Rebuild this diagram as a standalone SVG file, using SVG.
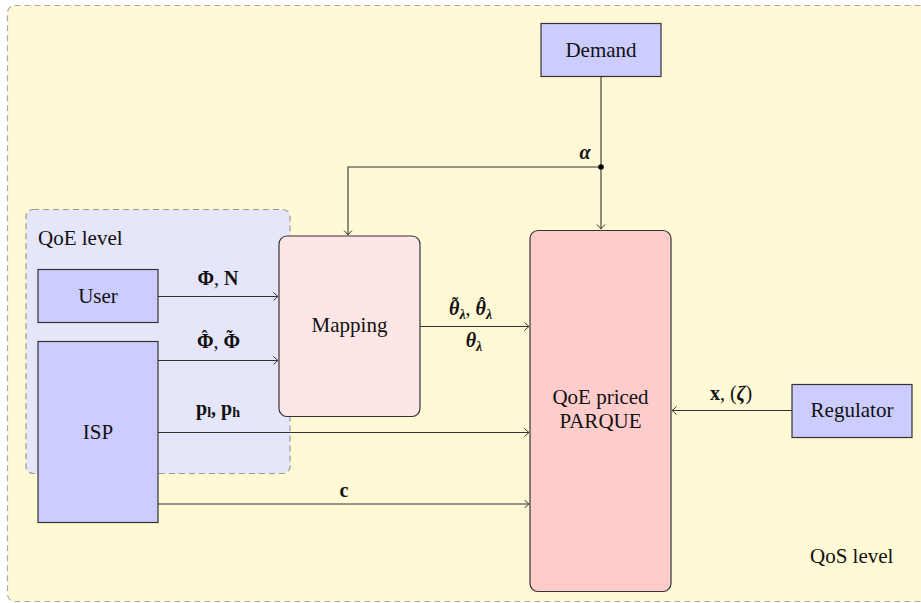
<svg xmlns="http://www.w3.org/2000/svg" width="921" height="603" viewBox="0 0 921 603">
<defs>
<marker id="arr" markerUnits="userSpaceOnUse" markerWidth="12" markerHeight="12" viewBox="-6 -6 12 12" refX="0" refY="0" orient="auto">
<path d="M-4.5,-4 Q-1.5,-1 0,0 Q-1.5,1 -4.5,4" fill="none" stroke="#333" stroke-width="1"/>
</marker>
</defs>
<style>
.node{stroke:#333;stroke-width:1.2}
.blue{fill:#ccccff}
.conn{fill:none;stroke:#333;stroke-width:1.1}
</style>
<rect x="7.5" y="5.5" width="940" height="596" rx="7" fill="#fff9d6" stroke="#aaa" stroke-width="1.2" stroke-dasharray="6,4"/>
<g id="qoe-level">
<rect x="26" y="209.5" width="264" height="264" rx="7" fill="#e6e6fb" stroke="#999" stroke-width="1.2" stroke-dasharray="6,4"/>
<text x="38" y="245" font-family="Liberation Serif" font-size="21" fill="#111">QoE level</text>
</g>
<g id="qos-level">
<text x="810" y="563" font-family="Liberation Serif" font-size="21" fill="#111">QoS level</text>
</g>
<g id="connectors">
<path class="conn" d="M601,76 V229" marker-end="url(#arr)"/>
<path class="conn" d="M601,167 H348 V235" marker-end="url(#arr)"/>
<circle cx="601" cy="167" r="2.8" fill="#000"/>
<path class="conn" d="M158,296.5 H278" marker-end="url(#arr)"/>
<path class="conn" d="M158,360.5 H278" marker-end="url(#arr)"/>
<path class="conn" d="M158,432.5 H529" marker-end="url(#arr)"/>
<path class="conn" d="M158,504 H529" marker-end="url(#arr)"/>
<path class="conn" d="M420,326.5 H529" marker-end="url(#arr)"/>
<path class="conn" d="M792,410.5 H672" marker-end="url(#arr)"/>
<g font-family="Liberation Serif" font-size="20" fill="#111">
<text x="585" y="159" text-anchor="middle" font-weight="bold" font-style="italic">α</text>
<text x="218" y="285" text-anchor="middle"><tspan font-weight="bold">Φ</tspan>, <tspan font-weight="bold">N</tspan></text>
<text><tspan x="197" y="348" font-weight="bold">Φ</tspan>, <tspan font-weight="bold">Φ</tspan><tspan font-size="18" font-weight="bold" x="204.5" y="343" text-anchor="middle">ˆ</tspan><tspan font-size="18" font-weight="bold" x="229.5" y="343" text-anchor="middle">˜</tspan></text>
<text x="218" y="415" text-anchor="middle" font-weight="bold">p<tspan font-size="14" dy="2">l</tspan><tspan dy="-2">, p</tspan><tspan font-size="14" dy="2">h</tspan></text>
<text x="344" y="497" text-anchor="middle" font-weight="bold">c</text>
<text><tspan font-weight="bold" font-style="italic" x="449" y="315">θ</tspan><tspan font-weight="bold" font-style="italic" font-size="14" dy="4">λ</tspan><tspan dy="-4">, </tspan><tspan font-weight="bold" font-style="italic">θ</tspan><tspan font-weight="bold" font-style="italic" font-size="14" dy="4">λ</tspan><tspan font-size="18" font-weight="bold" x="455" y="310" text-anchor="middle">˜</tspan><tspan font-size="18" font-weight="bold" x="482" y="310" text-anchor="middle">ˆ</tspan></text>
<text x="474" y="347" text-anchor="middle"><tspan font-weight="bold" font-style="italic">θ</tspan><tspan font-weight="bold" font-style="italic" font-size="14" dy="4">λ</tspan></text>
<text x="731" y="400" text-anchor="middle"><tspan font-weight="bold">x</tspan>, (<tspan font-weight="bold" font-style="italic">ζ</tspan>)</text>
</g>
</g>
<g id="demand">
<rect class="node blue" x="541" y="23.5" width="120" height="53"/>
<text x="601" y="57" text-anchor="middle" font-family="Liberation Serif" font-size="21" fill="#111">Demand</text>
</g>
<g id="user">
<rect class="node blue" x="38" y="269.5" width="120" height="53"/>
<text x="98" y="303" text-anchor="middle" font-family="Liberation Serif" font-size="21" fill="#111">User</text>
</g>
<g id="isp">
<rect class="node blue" x="38" y="341.5" width="120" height="181"/>
<text x="98" y="439" text-anchor="middle" font-family="Liberation Serif" font-size="21" fill="#111">ISP</text>
</g>
<g id="mapping">
<rect class="node" x="279" y="236" width="141" height="180.5" rx="8" fill="#fee6e6"/>
<text x="349.5" y="332" text-anchor="middle" font-family="Liberation Serif" font-size="21" fill="#111">Mapping</text>
</g>
<g id="parque">
<rect class="node" x="530" y="230.5" width="141" height="361" rx="8" fill="#ffcccc"/>
<text x="600.5" y="404" text-anchor="middle" font-family="Liberation Serif" font-size="21" fill="#111">QoE priced</text>
<text x="600.5" y="428" text-anchor="middle" font-family="Liberation Serif" font-size="21" fill="#111">PARQUE</text>
</g>
<g id="regulator">
<rect class="node blue" x="792" y="384.5" width="120" height="53"/>
<text x="852" y="417" text-anchor="middle" font-family="Liberation Serif" font-size="21" fill="#111">Regulator</text>
</g>
</svg>
